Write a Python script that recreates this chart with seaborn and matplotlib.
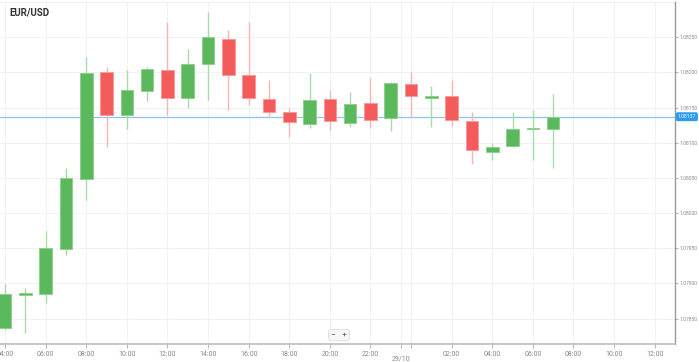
import pandas as pd
import matplotlib
matplotlib.use("Agg")
import matplotlib.pyplot as plt
import matplotlib.dates as mdates
import seaborn as sns

# hourly EUR/USD candles, 28/10 04:00 .. 29/10 07:00
times = pd.date_range("2023-10-28 04:00", periods=28, freq="h")
opens = [1.07837, 1.07883, 1.07885, 1.07949, 1.08048, 1.08200, 1.08139, 1.08174,
         1.08203, 1.08163, 1.08212, 1.08248, 1.08196, 1.08162, 1.08144, 1.08127,
         1.08162, 1.08128, 1.08157, 1.08135, 1.08184, 1.08164, 1.08167, 1.08131,
         1.08087, 1.08095, 1.08119, 1.08120]
highs = [1.07899, 1.07894, 1.07975, 1.08064, 1.08222, 1.08208, 1.08203, 1.08208,
         1.08271, 1.08233, 1.08286, 1.08260, 1.08272, 1.08189, 1.08149, 1.08199,
         1.08175, 1.08172, 1.08192, 1.08186, 1.08201, 1.08180, 1.08189, 1.08143,
         1.08099, 1.08144, 1.08147, 1.08169]
lows = [1.07834, 1.07830, 1.07872, 1.07940, 1.08019, 1.08094, 1.08120, 1.08160,
        1.08140, 1.08149, 1.08161, 1.08146, 1.08153, 1.08138, 1.08108, 1.08121,
        1.08118, 1.08122, 1.08121, 1.08117, 1.08137, 1.08123, 1.08124, 1.08070,
        1.08076, 1.08094, 1.08076, 1.08064]
closes = [1.07885, 1.07887, 1.07950, 1.08050, 1.08199, 1.08139, 1.08175, 1.08205,
          1.08163, 1.08212, 1.08250, 1.08196, 1.08163, 1.08144, 1.08130, 1.08161,
          1.08131, 1.08155, 1.08132, 1.08185, 1.08167, 1.08166, 1.08132, 1.08089,
          1.08094, 1.08120, 1.08121, 1.08137]
last_price = 1.08137

price_ticks = [1.07850, 1.07900, 1.07950, 1.08000, 1.08050, 1.08100, 1.08150, 1.08200, 1.08250]
time_ticks = pd.date_range("2023-10-28 04:00", periods=17, freq="2h")
time_labels = ["04:00", "06:00", "08:00", "10:00", "12:00", "14:00", "16:00", "18:00",
               "20:00", "22:00", "", "02:00", "04:00", "06:00", "08:00", "10:00", "12:00"]
day_tick = pd.Timestamp("2023-10-28 23:30")
day_label = "29/10"

df = pd.DataFrame({"time": times, "open": opens, "high": highs, "low": lows, "close": closes})
df["up"] = df["close"] >= df["open"]

sns.set_theme(style="white")
plt.rcParams["font.family"] = ["Roboto", "DejaVu Sans"]

fig = plt.figure(figsize=(6.99, 3.62), dpi=100)
ax = fig.add_axes([0, 18 / 362, 675 / 699, 342 / 362])

green, red = "#5cb85c", "#f45b5b"
green_w, red_w = "#a8dba8", "#f9b4b4"
day = 1 / 24

# wicks
for up, wc in [(True, green_w), (False, red_w)]:
    sub = df[df["up"] == up]
    ax.vlines(sub["time"], sub["low"], sub["high"], color=wc, linewidth=1, zorder=2)

# bodies
bottoms = df[["open", "close"]].min(axis=1)
heights = (df["close"] - df["open"]).abs().clip(lower=0.000025)
ax.bar(df["time"], heights, bottom=bottoms, width=day * 0.62,
       color=[green if u else red for u in df["up"]],
       edgecolor=["#8fd08f" if u else "#f99a9a" for u in df["up"]],
       linewidth=0.7, zorder=3)

# last price line
ax.axhline(last_price, color="#8cc4ea", linewidth=0.9, zorder=1)

ax.set_xlim(pd.Timestamp("2023-10-28 03:45"), pd.Timestamp("2023-10-29 13:00"))
ax.set_ylim(1.07814, 1.08300)

ax.yaxis.tick_right()
ax.set_yticks(price_ticks)
ax.set_yticklabels([f"{p:.5f}" for p in price_ticks])
ax.set_xticks(list(time_ticks) + [day_tick])
ax.set_xticklabels(time_labels + [""])
ax.tick_params(axis="x", labelsize=5, colors="#aaaaaa", length=3, width=0.6,
               direction="out", pad=2, bottom=True)
ax.tick_params(axis="y", labelsize=3.6, colors="#aaaaaa", length=2, width=0.6,
               direction="out", pad=1, right=True)
for lab in ax.get_xticklabels() + ax.get_yticklabels():
    lab.set_color("#888888")

ax.grid(True, color="#f2f2f2", linewidth=0.8)
ax.set_axisbelow(True)
for side in ["left", "top"]:
    ax.spines[side].set_visible(False)
ax.spines["right"].set_color("#9a9a9a")
ax.spines["right"].set_linewidth(1.0)
ax.spines["bottom"].set_color("#bdbdbd")
ax.spines["bottom"].set_linewidth(1.2)
ax.axhline(1.08300, color="#eeeeee", linewidth=1.2)

ax.annotate(day_label, xy=(mdates.date2num(day_tick), 0), xycoords=("data", "axes fraction"),
            xytext=(0, -8), textcoords="offset points", ha="center", va="top",
            fontsize=5, color="#888888")

ax.annotate(f"{last_price:.5f}", xy=(1, last_price), xycoords=("axes fraction", "data"),
            xytext=(2, 0), textcoords="offset points", ha="left", va="center",
            fontsize=3.6, color="white",
            bbox=dict(boxstyle="round,pad=0.25", fc="#2b9af3", ec="#2b9af3"),
            annotation_clip=False)

ax.set_xlabel("")
ax.set_ylabel("")
fig.text(9 / 699, 1 - 12 / 362, "EUR/USD", fontsize=7, fontweight="bold",
         color="#333333", va="center", ha="left")
fig.text(339 / 699, 1 - 335 / 362, "−   +", fontsize=6, color="#555555",
         ha="center", va="center",
         bbox=dict(boxstyle="round,pad=0.3", fc="#f7f7f7", ec="#dddddd", lw=0.6))

fig.savefig("out.png", dpi=100)
